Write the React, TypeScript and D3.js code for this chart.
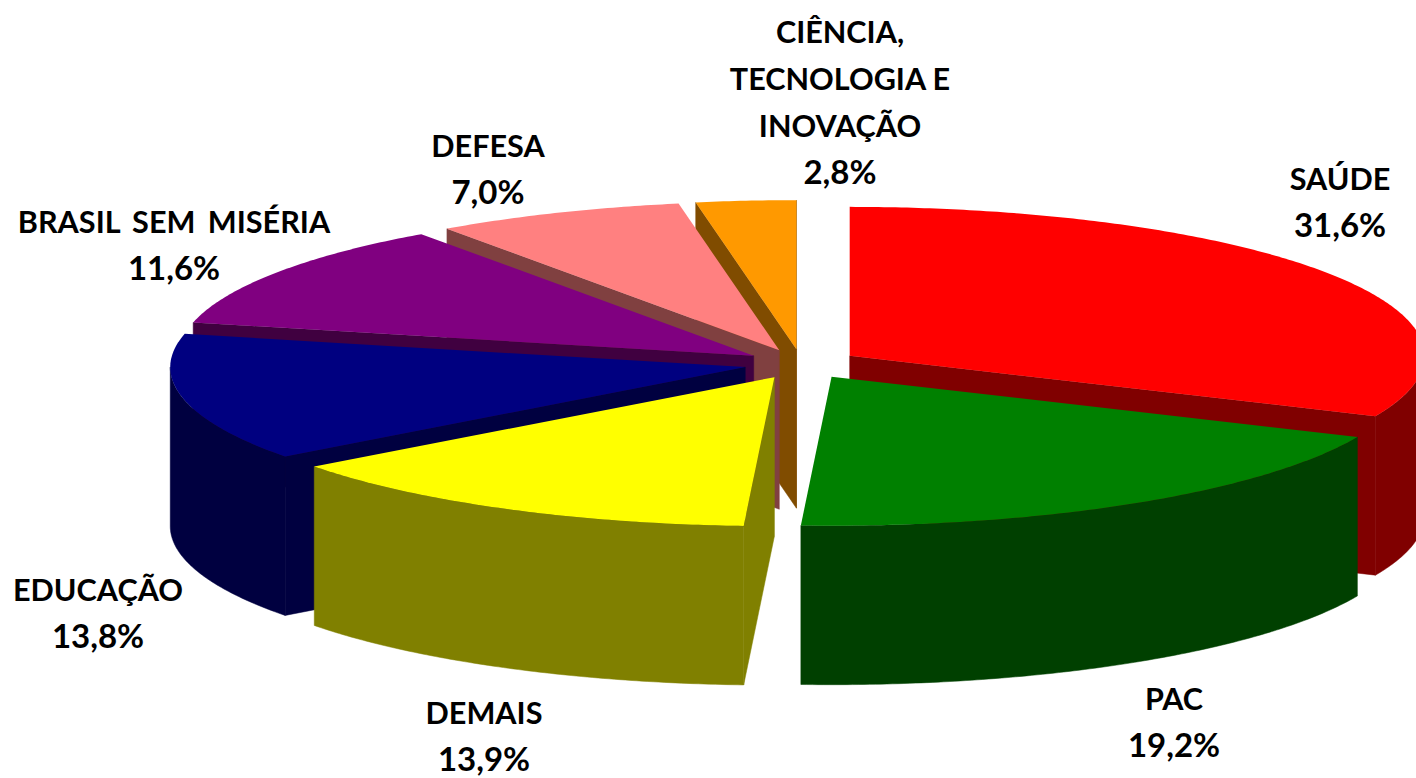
import React from "react";
import * as d3 from "d3";

const categories = ["SAÚDE", "PAC", "DEMAIS", "EDUCAÇÃO", "BRASIL SEM MISÉRIA", "DEFESA", "CIÊNCIA, TECNOLOGIA E INOVAÇÃO"];
const values = [31.6, 19.2, 13.9, 13.8, 11.6, 7.0, 2.8];
const topColors = ["#ff0000", "#008000", "#ffff00", "#000080", "#800080", "#ff8080", "#ff9900"];
const sideColors = ["#800000", "#004000", "#808000", "#000040", "#400040", "#804040", "#804c00"];
const labelLines = [["SAÚDE"], ["PAC"], ["DEMAIS"], ["EDUCAÇÃO"], ["BRASIL SEM MISÉRIA"], ["DEFESA"], ["CIÊNCIA,", "TECNOLOGIA E", "INOVAÇÃO"]];
const percentLabels = ["31,6%", "19,2%", "13,9%", "13,8%", "11,6%", "7,0%", "2,8%"];
const labelAnchors = [[1340, 190], [1174, 710], [484, 724], [98, 601], [174, 233], [488, 157], [840, 43]];
const drawOrder = [0, 1, 6, 5, 4, 3, 2];

const CX = 801.5, CY = 364, RX = 575, RY = 149, DEPTH = 159, EXPLODE = 0.1;
const sx = d3.scaleLinear().domain([-1, 1]).range([CX - RX, CX + RX]);
const sy = d3.scaleLinear().domain([-1, 1]).range([CY - RY, CY + RY]);
const line = d3.line();

const arcs = d3.pie<number>().sort(null).startAngle(0).endAngle(2 * Math.PI)(values);

function pt(a: number, r: number, ox: number, oy: number, dz = 0): [number, number] {
  return [sx(r * Math.sin(a) + ox), sy(-r * Math.cos(a) + oy) + dz];
}
function rim(a0: number, a1: number, ox: number, oy: number, dz = 0) {
  const n = Math.max(2, Math.ceil(Math.abs(a1 - a0) / 0.01));
  return d3.range(n + 1).map((i) => pt(a0 + ((a1 - a0) * i) / n, 1, ox, oy, dz));
}

function Slice({ i }: { i: number }) {
  const d = arcs[i];
  const mid = (d.startAngle + d.endAngle) / 2;
  const ox = EXPLODE * Math.sin(mid), oy = -EXPLODE * Math.cos(mid);
  const apex = pt(0, 0, ox, oy), apexB = pt(0, 0, ox, oy, DEPTH);
  const s = pt(d.startAngle, 1, ox, oy), e = pt(d.endAngle, 1, ox, oy);
  const walls: string[] = [];
  if (Math.sin(d.endAngle) > 0) walls.push(line([apex, e, pt(d.endAngle, 1, ox, oy, DEPTH), apexB])! + "Z");
  if (Math.sin(d.startAngle) < 0) walls.push(line([apex, s, pt(d.startAngle, 1, ox, oy, DEPTH), apexB])! + "Z");
  const lo = Math.max(d.startAngle, Math.PI / 2), hi = Math.min(d.endAngle, 1.5 * Math.PI);
  if (hi > lo) walls.push(line([...rim(lo, hi, ox, oy), ...rim(hi, lo, ox, oy, DEPTH)])! + "Z");
  const top = line([apex, ...rim(d.startAngle, d.endAngle, ox, oy)])! + "Z";
  return (
    <g>
      {walls.map((w, k) => <path key={k} d={w} fill={sideColors[i]} stroke={sideColors[i]} strokeWidth={0.5} />)}
      <path d={top} fill={topColors[i]} />
    </g>
  );
}

const CAP_FONT = 30.6, PCT_FONT = 33, LH = 47;

export default function App() {
  return (
    <svg width={1416} height={778} style={{ position: "absolute", left: 0, top: 0, background: "#fff", overflow: "hidden" }}>
      {drawOrder.map((i) => <Slice key={i} i={i} />)}
      {categories.map((c, i) => {
        const rows = [...labelLines[i], percentLabels[i]];
        return (
          <text key={c} textAnchor="middle" fontFamily="Lato" fontWeight={700} fill="#000">
            {rows.map((r, k) => (
              <tspan
                key={k}
                x={labelAnchors[i][0]}
                y={labelAnchors[i][1] + k * LH}
                fontSize={k === rows.length - 1 ? PCT_FONT : CAP_FONT}
                wordSpacing={r.split(" ").length > 2 ? 5 : 0}
              >
                {r}
              </tspan>
            ))}
          </text>
        );
      })}
    </svg>
  );
}
